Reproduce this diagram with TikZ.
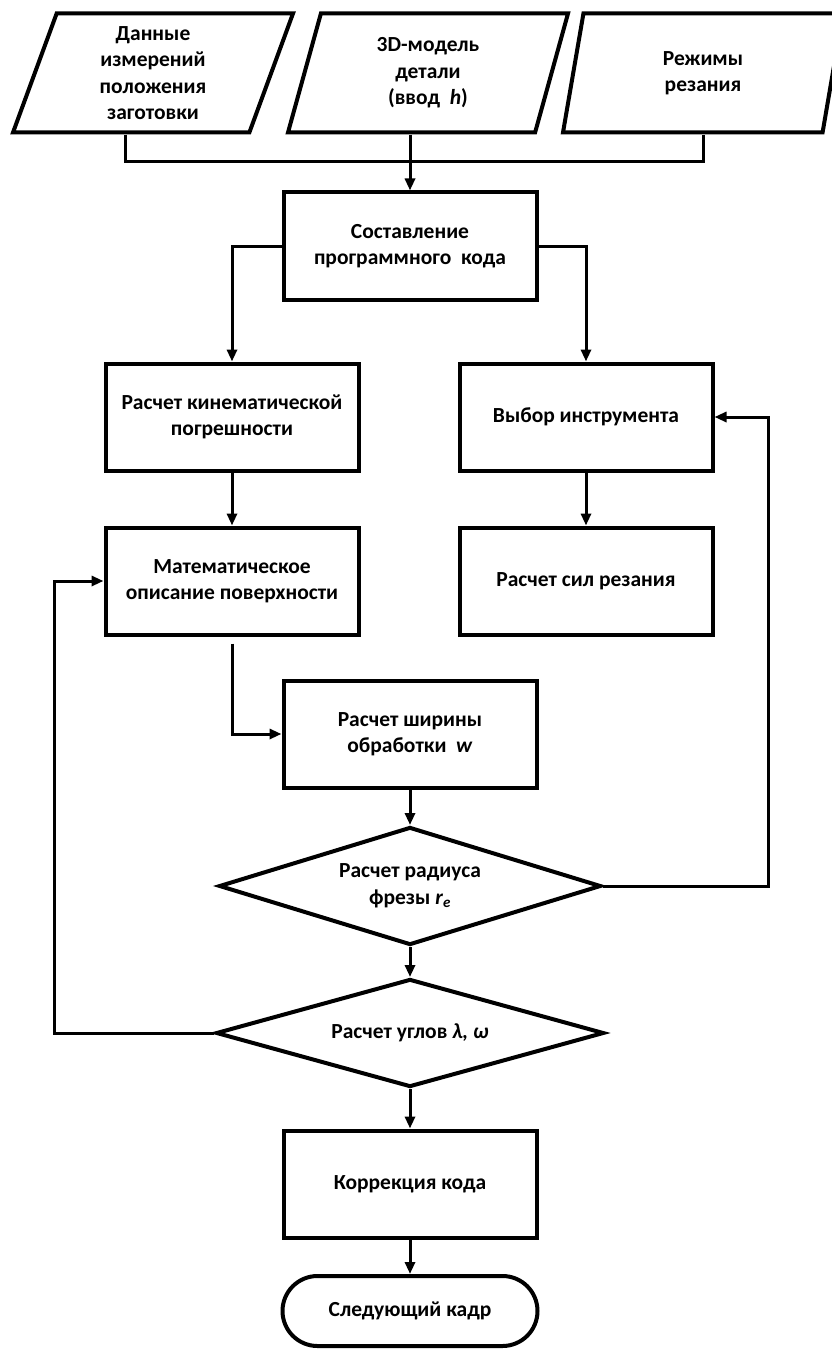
\documentclass[tikz,border=0pt]{standalone}
\usepackage{fontspec}
\setmainfont{Carlito}
\usetikzlibrary{shapes.geometric, arrows.meta}

\tikzset{
	block/.style={draw, line width=4pt, minimum width=253pt, minimum height=107pt, align=center, inner sep=2pt},
	iobox/.style={draw, line width=4pt, trapezium, trapezium left angle=65, trapezium right angle=115,
		trapezium stretches body, minimum width=280pt, minimum height=119pt, align=center, inner sep=0pt},
	decide/.style={draw, line width=4pt, diamond, shape aspect=3.3, inner sep=0pt, align=center},
	stopbox/.style={draw, line width=4pt, rounded corners=35pt, minimum width=255pt, minimum height=70pt, align=center},
	link/.style={line width=3pt},
	flow/.style={link, -{Triangle[length=12pt, width=10pt]}},
}

\begin{document}
\begin{tikzpicture}[x=1pt, y=-1pt, font=\fontsize{21.5pt}{26.5pt}\selectfont\bfseries]
	\useasboundingbox (0,0) rectangle (831,1351);

	% --- Inputs ---
	\node[iobox] (inL) at (153,73) {Данные\\измерений\\положения\\заготовки};
	\node[iobox] (inM) at (428,73) {3D-модель\\детали\\(ввод \ \textit{h})};
	\node[iobox] (inR) at (703,73) {Режимы\\резания};

	% --- Blocks ---
	\node[block] (code)  at (410,246) {Составление\\программного \ кода};
	\node[block] (kin)   at (232,417) {Расчет кинематической\\погрешности};
	\node[block] (tool)  at (586,417) {Выбор инструмента};
	\node[block] (surf)  at (232,581) {Математическое\\описание поверхности};
	\node[block] (force) at (586,581) {Расчет сил резания};
	\node[block] (wid)   at (410,734) {Расчет ширины\\обработки \ \textit{w}};

	\node[decide, minimum width=382pt, minimum height=118pt] (rad) at (410,886)
		{Расчет радиуса\\фрезы \textit{r}\textsubscript{\textit{e}}};
	\node[decide, minimum width=388pt, minimum height=108pt] (ang) at (410,1033)
		{Расчет углов \textit{λ, ω}};

	\node[block] (corr) at (410,1184) {Коррекция кода};
	\node[stopbox] (next) at (410,1311) {Следующий кадр};

	% --- Connectors ---
	\coordinate (jn) at (410,162);
	\draw[link] ([xshift=-28pt]inL.south) |- (jn) -| (inR.south);
	\draw[flow] (inM.south -| code.north) -- (code.north);

	\draw[flow] (code.west) -| (kin.north);
	\draw[flow] (code.east) -| (tool.north);
	\draw[flow] (kin.south) -- (surf.north);
	\draw[flow] (tool.south) -- (force.north);
	\draw[flow, shorten <=7pt] (surf.south) |- (wid.west);
	\draw[flow] (wid.south) -- (rad.north);

	% feedback loops
	\draw[flow] (rad.east) -| ([xshift=54pt]tool.east) -- (tool.east);
	\draw[flow] (rad.south) -- (ang.north);
	\draw[flow] (ang.west) -| ([xshift=-49pt]surf.west) -- (surf.west);

	\draw[flow] (ang.south) -- (corr.north);
	\draw[flow] (corr.south) -- (next.north);
\end{tikzpicture}
\end{document}
